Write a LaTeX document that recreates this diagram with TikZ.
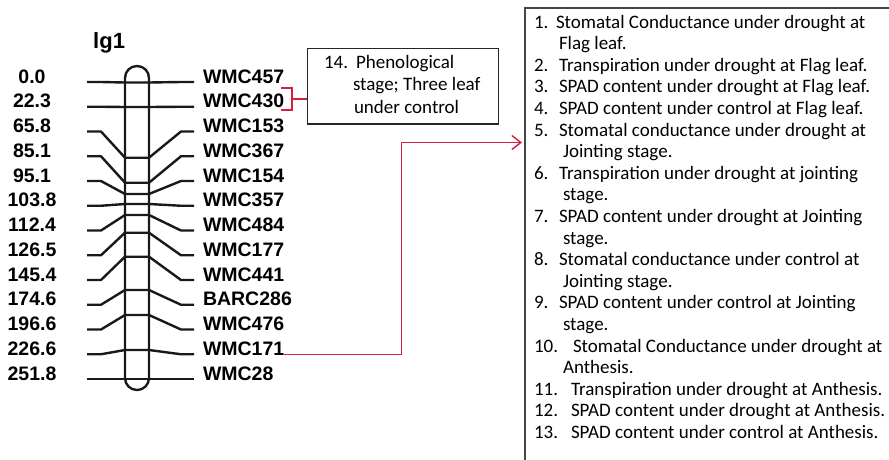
\documentclass[tikz,border=0pt]{standalone}
\usepackage{fontspec}
\setmainfont{Carlito}
\newfontfamily\hvfont{Liberation Sans}
\usetikzlibrary{arrows.meta}
\definecolor{linkred}{RGB}{214,30,64}
\definecolor{boxgray}{RGB}{70,70,70}
\begin{document}
\begin{tikzpicture}[x=1pt,y=-1pt,
  txt/.style={inner sep=0pt,outer sep=0pt,anchor=base west,font=\fontsize{19}{22}\selectfont},
  mklabel/.style={inner sep=0pt,outer sep=0pt,anchor=base west,font=\hvfont\bfseries\fontsize{19.5}{22}\selectfont},
  cmlabel/.style={inner sep=0pt,outer sep=0pt,anchor=base,font=\hvfont\bfseries\fontsize{19.5}{22}\selectfont},
  chrom/.style={line width=2.4pt,black!90},
  redline/.style={line width=1.6pt,draw=linkred}]
\useasboundingbox (0,0) rectangle (889,459);
% title
\node[inner sep=0pt,anchor=base west,font=\hvfont\bfseries\fontsize{22}{24}\selectfont] (title) at (93,48.5) {lg1};
% chromosome
\draw[chrom,rounded corners=11.9pt] (125,66) rectangle (149,390);
\foreach \i/\cm/\name/\yc in {0/0.0/WMC457/82.5, 1/22.3/WMC430/107, 2/65.8/WMC153/157.7, 3/85.1/WMC367/182.7, 4/95.1/WMC154/194, 5/103.8/WMC357/204, 6/112.4/WMC484/215, 7/126.5/WMC177/232.7, 8/145.4/WMC441/256.7, 9/174.6/BARC286/290, 10/196.6/WMC476/315, 11/226.6/WMC171/350, 12/251.8/WMC28/379}{
  \pgfmathsetmacro\yo{82+24.75*\i}
  \draw[chrom,line join=round] (87,\yo) -- (101,\yo) -- (125,\yc) -- (149,\yc) -- (181,\yo) -- (194,\yo);
  \node[cmlabel] (p\i) at (32,\yo+1) {\cm};
  \node[mklabel] (w\i) at (203,\yo+1) {\name};
}
% small note box
\node[draw=black!85,line width=1.3pt,minimum width=191pt,minimum height=75.6pt,anchor=north west,inner sep=0pt] (note) at (306.7,47.7) {};
\node[txt] (n14) at (324,68.3) {14.};
\node[txt] (n14a) at (356,68.3) {Phenological};
\node[txt] (n14b) at (353,90.7) {stage; Three leaf};
\node[txt] (n14c) at (354,113.3) {under control};
% red bracket to note
\coordinate (brk) at (292,99);
\draw[redline] (281,88) -- (292,88) -- (292,110) -- (281,110);
\draw[redline] (brk) -- (note.west |- brk);
% large list box (extends beyond the picture)
\begin{scope}
\clip (0,0) rectangle (889,459);
\draw[boxgray,line width=1.8pt] (900,8) -- (525,8) -- (525,470);
\end{scope}
% red connector from WMC171
\coordinate (cstart) at ([yshift=0.75pt]w11.base east);
\coordinate (bend) at (401.5,142.5);
\coordinate (aend) at (522,142.5);
\draw[redline,-{Straight Barb[length=9pt,width=14pt,line width=1.4pt]}] (cstart) -| (bend) -- (aend);
% list lines
\foreach \k/\num/\tx/\t in {
 0/1./556/Stomatal Conductance under drought at,
 1//559/Flag leaf.,
 2/2./559/Transpiration under drought at Flag leaf.,
 3/3./559/SPAD content under drought at Flag leaf.,
 4/4./559/SPAD content under control at Flag leaf.,
 5/5./559/Stomatal conductance under drought at,
 6//563/Jointing stage.,
 7/6./559/Transpiration under drought at jointing,
 8//563/stage.,
 9/7./559/SPAD content under drought at Jointing,
 10//563/stage.,
 11/8./559/Stomatal conductance under control at,
 12//563/Jointing stage.,
 13/9./559/SPAD content under control at Jointing,
 14//563/stage.,
 15/10./573/Stomatal Conductance under drought at,
 16//563/Anthesis.,
 17/11./571/Transpiration under drought at Anthesis.,
 18/12./571/SPAD content under drought at Anthesis.,
 19/13./571/SPAD content under control at Anthesis.}{
  \pgfmathsetmacro\yb{28+21.6*\k}
  \node[txt] (num\k) at (534,\yb) {\num};
  \node[txt] (line\k) at (\tx,\yb) {\t};
}
\end{tikzpicture}
\end{document}
